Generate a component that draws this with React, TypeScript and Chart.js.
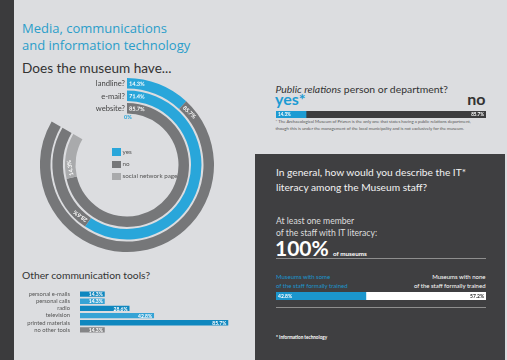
import React, { useEffect, useRef } from 'react';
import { Chart, registerables } from 'chart.js';
Chart.register(...registerables);

// ---------------- data ----------------
const ringQuestions = ['landline?', 'e-mail?', 'website?'];
const ringYes = [14.3, 71.4, 0];
const ringNo = [85.7, 28.6, 85.7];
const ringSocial = [0, 0, 14.3];
const ringLegend = ['yes', 'no', 'social network page'];

const toolLabels = ['personal e-mails', 'personal calls', 'radio', 'television', 'printed materials', 'no other tools'];
const toolValues = [14.3, 14.3, 28.6, 42.8, 85.7, 14.3];

const prLabels = ['yes*', 'no'];
const prValues = [14.3, 85.7];

const itLabels = ['Museums with some', 'Museums with none'];
const itValues = [42.8, 57.2];
const itLiteracy = '100%';

// ---------------- colours ----------------
const BG = '#dcdde0';
const DARK = '#3f3f41';
const RING_BLUE = '#29a6da';
const RING_GRAY = '#767779';
const RING_LIGHT = '#a9aaac';
const TOOL_COLORS = ['#0f87bf', '#36a3d5', '#0f87bf', '#36a3d5', '#0f87bf', '#858587'];
const PR_BLUE = '#1c9bd3';
const PR_DARK = '#3c3c3e';
const IT_BLUE = '#1b96cd';

const fmt = (v: number) => v.toFixed(1) + '%';

// ---------------- plugins ----------------
const ringLabelPlugin = {
  id: 'ringLabels',
  afterDatasetsDraw(chart: any) {
    const ctx = chart.ctx;
    chart.data.datasets.forEach((ds: any, di: number) => {
      if (!ds.label) return;
      const meta = chart.getDatasetMeta(di);
      let qx = 0, qy = 0;
      meta.data.forEach((arc: any, i: number) => {
        const p = arc.getProps(['x', 'y', 'startAngle', 'innerRadius', 'outerRadius'], true);
        const v = ds.data[i];
        const rMid = (p.innerRadius + p.outerRadius) / 2;
        if (i === 0) { qx = p.x; qy = p.y - rMid; }
        ctx.save();
        if (v > 0) {
          const a = p.startAngle + 2 / rMid;
          ctx.translate(p.x + rMid * Math.cos(a), p.y + rMid * Math.sin(a));
          ctx.rotate(a + Math.PI / 2);
          ctx.font = 'bold 5.6px Lato';
          ctx.fillStyle = '#ffffff';
          ctx.textAlign = 'left';
          ctx.textBaseline = 'middle';
          ctx.fillText(fmt(v), 0, 0.5);
        } else if (i === 0) {
          ctx.font = 'bold 5.6px Lato';
          ctx.fillStyle = RING_BLUE;
          ctx.textAlign = 'center';
          ctx.textBaseline = 'middle';
          ctx.fillText('0%', p.x + 1, p.y - p.innerRadius + 4);
        }
        ctx.restore();
      });
      ctx.save();
      ctx.font = '7.6px Lato';
      ctx.fillStyle = '#444';
      ctx.textAlign = 'right';
      ctx.textBaseline = 'middle';
      ctx.fillText(ds.label, qx - 2, qy + 0.5);
      ctx.restore();
    });
  },
};

const barLabelPlugin = {
  id: 'barLabels',
  afterDatasetsDraw(chart: any, _args: any, opts: any) {
    const ctx = chart.ctx;
    chart.data.datasets.forEach((ds: any, di: number) => {
      const meta = chart.getDatasetMeta(di);
      meta.data.forEach((bar: any, i: number) => {
        const p = bar.getProps(['x', 'y', 'base'], true);
        const v = ds.data[i];
        ctx.save();
        ctx.font = `bold ${opts.size || 5}px Lato`;
        ctx.fillStyle = ds.valueColor || '#fff';
        ctx.textBaseline = 'middle';
        if (ds.valueAlign === 'start') {
          ctx.textAlign = 'left';
          ctx.fillText(fmt(v), p.base + 2, p.y + 0.5);
        } else {
          ctx.textAlign = 'right';
          ctx.fillText(fmt(v), p.x - 2, p.y + 0.5);
        }
        ctx.restore();
      });
    });
  },
};

// ---------------- chart configs ----------------
function ringConfig(): any {
  const datasets: any[] = [];
  ringQuestions.forEach((q, i) => {
    if (i > 0) datasets.push({ data: [100], backgroundColor: ['rgba(0,0,0,0)'], weight: 2, borderWidth: 0 });
    datasets.push({
      label: q,
      data: [ringYes[i], ringNo[i], ringSocial[i]],
      backgroundColor: [RING_BLUE, RING_GRAY, RING_LIGHT],
      weight: 10.5,
      borderWidth: 0,
    });
  });
  return {
    type: 'doughnut',
    data: { labels: ringLegend, datasets },
    options: {
      responsive: false,
      animation: false,
      events: [],
      rotation: 0,
      circumference: 300,
      cutout: '59.2%',
      layout: { padding: 0 },
      plugins: { legend: { display: false }, tooltip: { enabled: false } },
    },
    plugins: [ringLabelPlugin],
  };
}

function toolConfig(): any {
  return {
    type: 'bar',
    data: {
      labels: toolLabels,
      datasets: [{
        data: toolValues,
        backgroundColor: TOOL_COLORS,
        barPercentage: 0.75,
        categoryPercentage: 1,
        valueAlign: 'end',
        valueColor: '#fff',
      }],
    },
    options: {
      indexAxis: 'y',
      responsive: false,
      animation: false,
      events: [],
      layout: { padding: 0 },
      scales: {
        x: { display: false, min: 0, max: 100 },
        y: {
          afterFit: (s: any) => { s.width = 80; },
          grid: { display: false },
          border: { display: false },
          ticks: { font: { family: 'Lato', size: 5.8 }, color: '#555', padding: 2, autoSkip: false },
        },
      },
      plugins: { legend: { display: false }, tooltip: { enabled: false }, barLabels: { size: 5 } },
    },
    plugins: [barLabelPlugin],
  };
}

function stackConfig(labels: string[], values: number[], colors: string[], valueColors: string[], size: number): any {
  return {
    type: 'bar',
    data: {
      labels: [''],
      datasets: values.map((v, i) => ({
        label: labels[i],
        data: [v],
        backgroundColor: colors[i],
        barPercentage: 1,
        categoryPercentage: 1,
        valueAlign: i === 0 ? 'start' : 'end',
        valueColor: valueColors[i],
      })),
    },
    options: {
      indexAxis: 'y',
      responsive: false,
      animation: false,
      events: [],
      layout: { padding: 0 },
      scales: {
        x: { display: false, stacked: true, min: 0, max: 100 },
        y: { display: false, stacked: true },
      },
      plugins: { legend: { display: false }, tooltip: { enabled: false }, barLabels: { size } },
    },
    plugins: [barLabelPlugin],
  };
}

// ---------------- components ----------------
function ChartBox({ left, top, width, height, config }: any) {
  const ref = useRef<HTMLCanvasElement>(null);
  useEffect(() => {
    const c = new Chart(ref.current as HTMLCanvasElement, config());
    return () => c.destroy();
  }, []);
  return (
    <canvas
      ref={ref}
      width={width}
      height={height}
      style={{ position: 'absolute', left, top, width, height }}
    />
  );
}

function T({ x, y, size, children, color = '#333', weight = 400, family = 'Lato', align = 'left', italic = false }: any) {
  const style: any = {
    position: 'absolute',
    top: y - size * 0.53,
    fontSize: size,
    lineHeight: `${size}px`,
    fontFamily: family,
    fontWeight: weight,
    color,
    whiteSpace: 'nowrap',
    fontStyle: italic ? 'italic' : 'normal',
  };
  if (align === 'right') style.right = 507 - x; else style.left = x;
  return <div style={style}>{children}</div>;
}

function Box({ x, y, w, h, c }: any) {
  return <div style={{ position: 'absolute', left: x, top: y, width: w, height: h, background: c }} />;
}

export default function App() {
  const legendColors = [RING_BLUE, RING_GRAY, RING_LIGHT];
  return (
    <div style={{ position: 'fixed', left: 0, top: 0, width: 507, height: 360, background: BG, overflow: 'hidden' }}>
      <Box x={0} y={0} w={14} h={360} c="#3b3b3d" />
      <Box x={255} y={154} w={250} h={206} c={DARK} />

      {/* left panel */}
      <T x={22} y={29.2} size={13} family="'Open Sans'" color="#2b9dca">Media, communications</T>
      <T x={22} y={46.2} size={13} family="'Open Sans'" color="#2b9dca">and information technology</T>
      <T x={22} y={69} size={13.6} color="#333">Does the museum have...</T>

      <ChartBox left={40} top={78} width={174} height={174} config={ringConfig} />

      {ringLegend.map((l, i) => (
        <React.Fragment key={l}>
          <Box x={112} y={148.3 + i * 12.2} w={8.5} h={7.7} c={legendColors[i]} />
          <T x={122.5} y={152.2 + i * 12.2} size={6.3} color="#555">{l}</T>
        </React.Fragment>
      ))}

      <T x={22} y={275.2} size={10.3} color="#333">Other communication tools?</T>
      <ChartBox left={0} top={285} width={253} height={54} config={toolConfig} />

      {/* right top */}
      <T x={275.5} y={89.2} size={10.4} color="#333"><i>Public relations</i> person or department?</T>
      <T x={275} y={99.9} size={16} weight={700} color={PR_BLUE}>{prLabels[0]}</T>
      <T x={485.5} y={99.9} size={16} weight={700} color="#333" align="right">{prLabels[1]}</T>
      <ChartBox left={275.5} top={110.5} width={210} height={7}
        config={() => stackConfig(prLabels, prValues, [PR_BLUE, PR_DARK], ['#fff', '#fff'], 4.6)} />
      <T x={275.5} y={122} size={4.3} color="#555">* The Archaeological Museum of Prizren is the only one that states having a public relations department,</T>
      <T x={275.5} y={129} size={4.3} color="#555">though this is under the management of the local municipality and is not exclusively for the museum.</T>

      {/* dark panel */}
      <T x={276} y={172.5} size={10.2} color="#f2f2f2">In general, how would you describe the IT*</T>
      <T x={276} y={187.5} size={10.2} color="#f2f2f2">literacy among the Museum staff?</T>
      <T x={276} y={221.7} size={8.6} color="#dddddd">At least one member</T>
      <T x={276} y={233.7} size={8.6} color="#dddddd">of the staff with IT literacy:</T>
      <T x={275} y={248.5} size={21} weight={700} color="#ffffff">{itLiteracy}</T>
      <T x={333} y={254} size={6.3} weight={700} color="#ffffff">of museums</T>
      <Box x={276} y={258} w={210} h={1} c="#8e8e8e" />

      <T x={276} y={276.8} size={6} color={IT_BLUE}>{itLabels[0]}</T>
      <T x={276} y={285.8} size={6} color={IT_BLUE}>of the staff formally trained</T>
      <T x={485.5} y={276.8} size={6} color="#ffffff" align="right">{itLabels[1]}</T>
      <T x={485.5} y={285.8} size={6} color="#ffffff" align="right">of the staff formally trained</T>
      <ChartBox left={276} top={292} width={210} height={8}
        config={() => stackConfig(itLabels, itValues, [IT_BLUE, '#ffffff'], ['#fff', '#333'], 5)} />
      <Box x={276} y={306.5} w={210} h={1} c="#8e8e8e" />
      <T x={276} y={337.5} size={4.6} weight={700} color="#ffffff">* Information technology</T>
    </div>
  );
}
